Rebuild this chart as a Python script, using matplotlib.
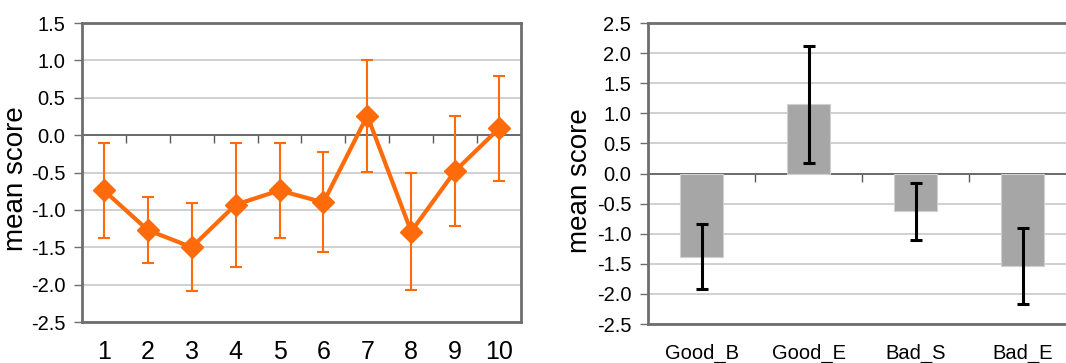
import matplotlib.pyplot as plt
import numpy as np

plt.rcParams['font.family'] = ['Liberation Sans', 'DejaVu Sans']

# left panel: mean score per session with error bars
sessions = ['1', '2', '3', '4', '5', '6', '7', '8', '9', '10']
session_means = [-0.74, -1.27, -1.50, -0.93, -0.74, -0.90, 0.26, -1.29, -0.48, 0.09]
session_err = [0.63, 0.44, 0.59, 0.83, 0.63, 0.67, 0.75, 0.78, 0.74, 0.70]

# right panel: mean score per condition
conditions = ['Good_B', 'Good_E', 'Bad_S', 'Bad_E']
condition_means = [-1.38, 1.15, -0.63, -1.54]
condition_err = [0.54, 0.97, 0.47, 0.63]

ORANGE = '#FF6A0A'
SPINE = '#6E6E6E'
GRID = '#C4C4C4'
ZERO = '#5A5A5A'


def style_axes(ax, ylim, step, ncat):
    ax.set_ylim(*ylim)
    ax.set_xlim(-0.5, ncat - 0.5)
    ax.set_yticks(np.arange(ylim[0], ylim[1] + step / 2, step))
    ax.yaxis.set_major_formatter(plt.FormatStrFormatter('%.1f'))
    ax.grid(axis='y', color=GRID, linewidth=1.1)
    ax.set_axisbelow(True)
    for s in ax.spines.values():
        s.set_color(SPINE)
        s.set_linewidth(2)
    ax.tick_params(axis='y', length=6, width=1, color=SPINE, labelsize=14.5, pad=6)
    ax.tick_params(axis='x', length=0)
    ax.axhline(0, color=ZERO, linewidth=1.2, zorder=1.5)
    # category separators hanging below the zero line
    zero_frac = (0 - ylim[0]) / (ylim[1] - ylim[0])
    sec = ax.secondary_xaxis(zero_frac)
    sec.set_xticks(np.arange(ncat + 1) - 0.5)
    sec.tick_params(direction='in', length=6, width=1, color=ZERO,
                    labelbottom=False, labeltop=False)
    sec.spines['bottom'].set_visible(False)
    sec.spines['top'].set_visible(False)
    ax.set_ylabel('mean score', fontsize=20)


fig = plt.figure(figsize=(10.66, 3.63), dpi=100)

ax1 = fig.add_axes([0.0769, 0.1129, 0.4118, 0.8237])
x1 = np.arange(len(sessions))
ax1.errorbar(x1, session_means, yerr=session_err, fmt='none', ecolor=ORANGE,
             elinewidth=1.5, capsize=4.3, capthick=1.5, zorder=3)
ax1.plot(x1, session_means, color=ORANGE, linewidth=3, marker='D', markersize=11,
         zorder=4)
style_axes(ax1, (-2.5, 1.5), 0.5, len(sessions))
ax1.set_xticks(x1)
ax1.set_xticklabels(sessions, fontsize=18)
ax1.tick_params(axis='x', pad=13)
ax1.yaxis.set_label_coords(-0.121, 0.478)

ax2 = fig.add_axes([0.6079, 0.1074, 0.4015, 0.829])
x2 = np.arange(len(conditions))
ax2.bar(x2, condition_means, width=0.4, color='#A6A6A6', edgecolor='#D0D0D0',
        linewidth=0.8, zorder=2)
ax2.errorbar(x2, condition_means, yerr=condition_err, fmt='none', ecolor='black',
             elinewidth=2.2, capsize=4.6, capthick=2.2, zorder=3)
style_axes(ax2, (-2.5, 2.5), 0.5, len(conditions))
ax2.set_xticks(x2)
ax2.set_xticklabels(conditions, fontsize=14.5)
ax2.tick_params(axis='x', pad=14)
ax2.yaxis.set_label_coords(-0.128, 0.475)

fig.savefig('out.png', dpi=100)
